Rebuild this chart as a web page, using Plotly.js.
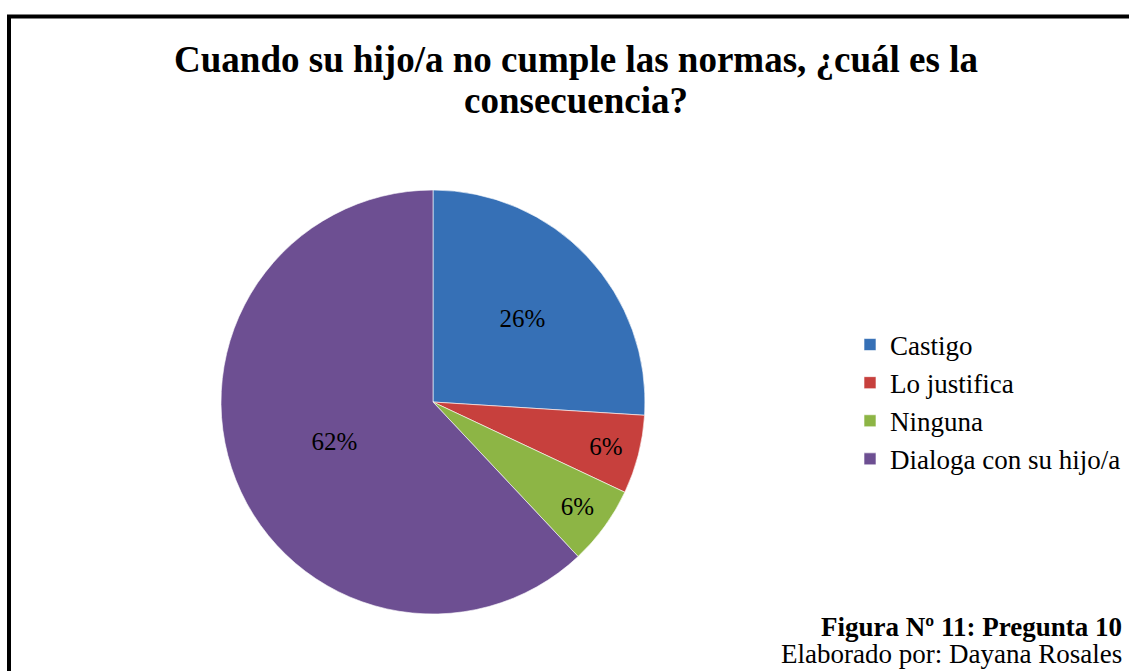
<!DOCTYPE html>
<html>
<head>
<meta charset="utf-8">
<script src="https://cdn.plot.ly/plotly-3.0.1.min.js"></script>
<style>
  html, body { margin: 0; padding: 0; background: #ffffff; }
  #chart { width: 1129px; height: 671px; }
</style>
</head>
<body>
<div id="chart"></div>
<script>
// Data
const categories = ["Castigo", "Lo justifica", "Ninguna", "Dialoga con su hijo/a"];
const counts = [13, 3, 3, 31];           // 26%, 6%, 6%, 62%
const sliceColors = ["#3670b6", "#c7403d", "#8db545", "#6d4f92"];
const titleLine1 = "Cuando su hijo/a no cumple las normas, ¿cuál es la";
const titleLine2 = "consecuencia?";
const figureLabel = "<b>Figura Nº 11: Pregunta 10</b>";
const authorLabel = "Elaborado por: Dayana Rosales";

const W = 1129, H = 671;
const cx = 433, cy = 402, R = 212;
const SERIF = "Liberation Serif";

const trace = {
  type: "pie",
  labels: categories,
  values: counts,
  sort: false,
  direction: "clockwise",
  rotation: 0,
  marker: { colors: sliceColors, line: { color: "rgba(255,255,255,0.6)", width: 1 } },
  textinfo: "percent",
  texttemplate: "%{percent:.0%}",
  textposition: "inside",
  insidetextorientation: "horizontal",
  textfont: { family: SERIF, size: 25, color: "#000000" },
  domain: { x: [(cx - R) / W, (cx + R) / W], y: [(H - cy - R) / H, (H - cy + R) / H] },
  hoverinfo: "label+percent"
};

const layout = {
  width: W, height: H,
  margin: { l: 0, r: 0, t: 0, b: 0 },
  paper_bgcolor: "#ffffff",
  font: { family: SERIF, color: "#000000" },
  title: {
    text: "<b>" + titleLine1 + "</b>",
    x: 576 / W, xanchor: "center",
    y: 1 - 59 / H, yanchor: "middle", yref: "container",
    font: { family: SERIF, size: 37, color: "#000000" }
  },
  showlegend: true,
  legend: {
    x: 850 / W, xanchor: "left",
    y: 269 / H, yanchor: "middle",
    font: { family: SERIF, size: 27, color: "#000000" },
    bgcolor: "rgba(0,0,0,0)",
    itemwidth: 30
  },
  shapes: [{
    type: "rect", xref: "paper", yref: "paper",
    x0: 9 / W, x1: 1.02, y0: -0.02, y1: 1 - 16.5 / H,
    line: { color: "#000000", width: 4 }, fillcolor: "rgba(0,0,0,0)"
  }],
  annotations: [
    { text: "<b>" + titleLine2 + "</b>", xref: "paper", yref: "paper", x: 576 / W, y: 1 - 100 / H,
      xanchor: "center", yanchor: "middle", showarrow: false,
      font: { family: SERIF, size: 37, color: "#000000" } },
    { text: figureLabel, xref: "paper", yref: "paper", x: 1124 / W, y: 1 - 627 / H,
      xanchor: "right", yanchor: "middle", showarrow: false,
      font: { family: SERIF, size: 27, color: "#000000" } },
    { text: authorLabel, xref: "paper", yref: "paper", x: 1124 / W, y: 1 - 654 / H,
      xanchor: "right", yanchor: "middle", showarrow: false,
      font: { family: SERIF, size: 27, color: "#000000" } }
  ]
};

Plotly.newPlot("chart", [trace], layout, { displayModeBar: false, responsive: false });
</script>
</body>
</html>
